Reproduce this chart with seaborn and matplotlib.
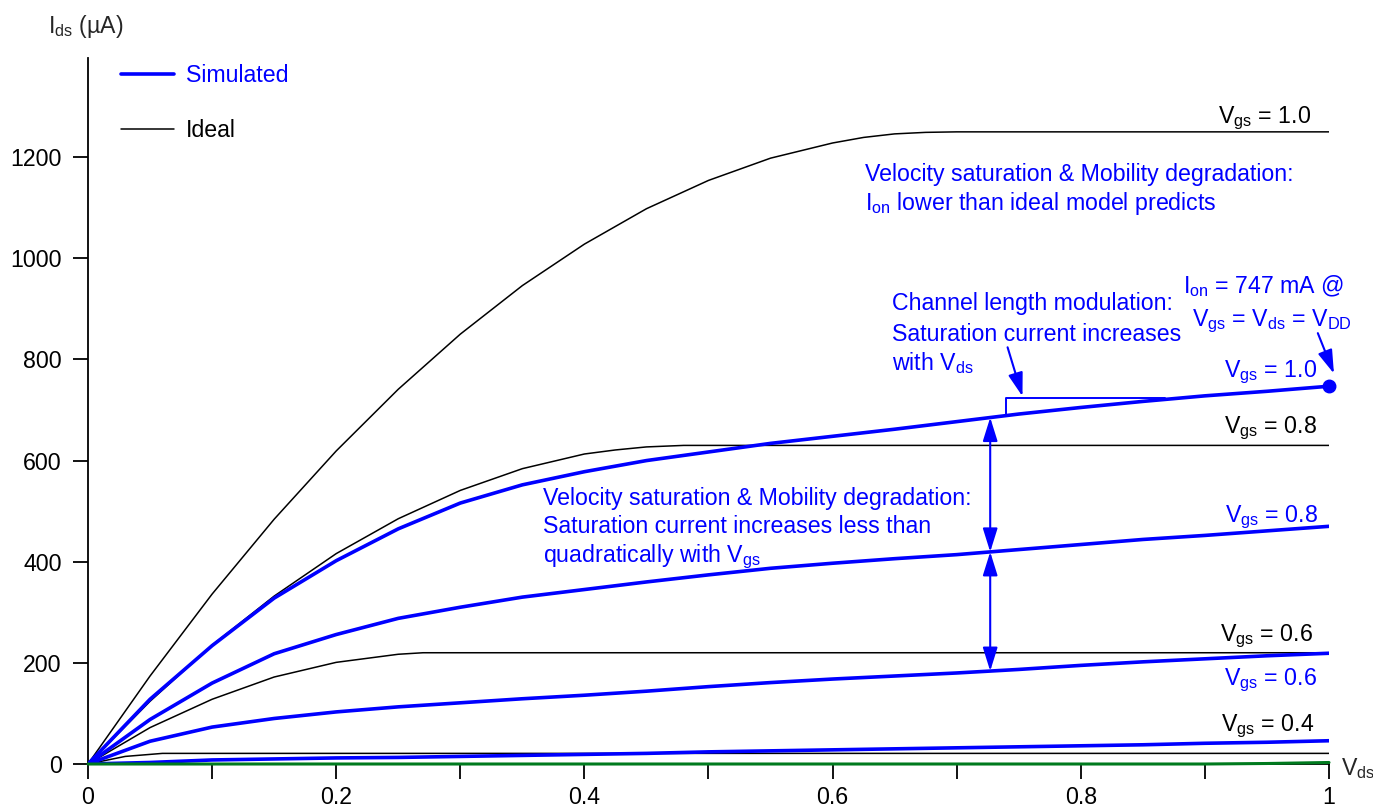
import numpy as np
import matplotlib
matplotlib.use("Agg")
import matplotlib.pyplot as plt
import seaborn as sns

# ---------------- data ----------------
VDS = [0.00, 0.05, 0.10, 0.15, 0.20, 0.25, 0.30, 0.35, 0.40, 0.45, 0.50,
       0.55, 0.60, 0.65, 0.70, 0.75, 0.80, 0.85, 0.90, 0.95, 1.00]
SIM_10 = [0, 128, 234, 328, 402, 465, 516, 552, 578, 600, 617,
          634, 648, 662, 677, 692, 705, 717, 728, 737, 747]
SIM_08 = [0, 88, 160, 218, 256, 288, 310, 330, 345, 360, 374,
          387, 397, 406, 414, 424, 434, 444, 452, 461, 470]
SIM_06 = [0, 45, 73, 90, 103, 113, 121, 129, 136, 144, 153,
          161, 168, 174, 180, 187, 195, 202, 208, 214, 219]
SIM_04 = [0, 3, 8, 10, 12, 13, 15, 17, 19, 21, 24,
          26, 28, 30, 32, 34, 36, 38, 41, 43, 46]
SIM_02 = [0, 0, 0, 0, 0, 0, 0, 0, 0, 0, 0,
          0, 0, 0, 0, 0, 0, 0, 0, 1, 3]

IDEAL_10_X = [0.00, 0.05, 0.10, 0.15, 0.20, 0.25, 0.30, 0.35, 0.40, 0.45,
              0.50, 0.55, 0.60, 0.625, 0.65, 0.675, 0.70, 1.00]
IDEAL_10_Y = [0, 174, 336, 484, 619, 741, 850, 946, 1028, 1098,
              1154, 1198, 1228, 1239, 1246, 1249, 1250, 1250]
IDEAL_08_X = [0.00, 0.05, 0.10, 0.15, 0.20, 0.25, 0.30, 0.35, 0.40, 0.425,
              0.45, 0.48, 1.00]
IDEAL_08_Y = [0, 124, 235, 332, 416, 485, 541, 584, 613, 621, 627, 630, 630]
IDEAL_06_X = [0.00, 0.05, 0.10, 0.15, 0.20, 0.25, 0.27, 1.00]
IDEAL_06_Y = [0, 72, 128, 172, 201, 217, 220, 220]
IDEAL_04_X = [0.00, 0.03, 0.06, 1.00]
IDEAL_04_Y = [0, 15, 21, 21]

X_TICKS = [0, 0.1, 0.2, 0.3, 0.4, 0.5, 0.6, 0.7, 0.8, 0.9, 1.0]
X_TICK_LABELS = ["0", "", "0.2", "", "0.4", "", "0.6", "", "0.8", "", "1"]
Y_TICKS = [0, 200, 400, 600, 800, 1000, 1200]

BLUE = "#0000ff"
GREEN = "#007a1e"

# ---------------- style ----------------
sns.set_style("ticks")
plt.rcParams["font.family"] = ["Liberation Sans", "DejaVu Sans"]
plt.rcParams["mathtext.fontset"] = "custom"
plt.rcParams["mathtext.rm"] = "Liberation Sans"
plt.rcParams["mathtext.it"] = "Liberation Sans:italic"
plt.rcParams["mathtext.bf"] = "Liberation Sans:bold"

FS = 16.7

fig = plt.figure(figsize=(13.73, 8.11), dpi=100)
ax = fig.add_axes([0.06409, 0.05795, 0.90386, 0.8705])

# ideal curves
for xs, ys in [(IDEAL_10_X, IDEAL_10_Y), (IDEAL_08_X, IDEAL_08_Y),
               (IDEAL_06_X, IDEAL_06_Y), (IDEAL_04_X, IDEAL_04_Y)]:
    sns.lineplot(x=xs, y=ys, ax=ax, color="black", lw=1.1,
                 estimator=None, sort=False, zorder=3)

# simulated curves
for ys in [SIM_10, SIM_08, SIM_06, SIM_04]:
    sns.lineplot(x=VDS, y=ys, ax=ax, color=BLUE, lw=2.6,
                 estimator=None, sort=False, zorder=4)
sns.lineplot(x=VDS, y=SIM_02, ax=ax, color=GREEN, lw=2.2,
             estimator=None, sort=False, zorder=4, clip_on=False)

# end point dot
ax.plot([VDS[-1]], [SIM_10[-1]], "o", color=BLUE, ms=9, clip_on=False, zorder=6)

# axes
ax.set_xlim(0, 1)
ax.set_ylim(0, 1396)
sns.despine(ax=ax)
for s in ["left", "bottom"]:
    ax.spines[s].set_linewidth(1.3)
    ax.spines[s].set_color("black")
ax.set_xticks(X_TICKS)
ax.set_xticklabels(X_TICK_LABELS)
ax.set_yticks(Y_TICKS)
ax.tick_params(axis="x", direction="out", length=11, width=1.3, pad=5,
               labelsize=FS, colors="black")
ax.tick_params(axis="y", direction="out", length=11, width=1.3, pad=8,
               labelsize=FS, colors="black")
ax.set_xlabel("")
ax.set_ylabel("")

ax.text(-0.032, 1445, r"I$_{\rm ds}$ (µA)", fontsize=FS, ha="left",
        va="baseline", clip_on=False)
ax.text(1.010, -22, r"V$_{\rm ds}$", fontsize=FS, ha="left",
        va="baseline", clip_on=False)

# legend
h_sim, = ax.plot([], [], color=BLUE, lw=2.6, label="Simulated")
h_id, = ax.plot([], [], color="black", lw=1.1, label="Ideal")
leg = ax.legend(handles=[h_sim, h_id], loc="upper left",
                bbox_to_anchor=(0.0266, 0.991), frameon=False, fontsize=FS,
                handlelength=2.3, handletextpad=0.5, labelspacing=1.37,
                borderpad=0, borderaxespad=0, labelcolor="linecolor")

# curve labels
for x, y, txt, c in [
    (0.9855, 1267, r"V$_{\rm gs}$ = 1.0", "black"),
    (0.990, 655, r"V$_{\rm gs}$ = 0.8", "black"),
    (0.987, 244, r"V$_{\rm gs}$ = 0.6", "black"),
    (0.988, 66, r"V$_{\rm gs}$ = 0.4", "black"),
    (0.990, 766, r"V$_{\rm gs}$ = 1.0", BLUE),
    (0.991, 479, r"V$_{\rm gs}$ = 0.8", BLUE),
    (0.990, 157, r"V$_{\rm gs}$ = 0.6", BLUE),
]:
    ax.text(x, y, txt, color=c, fontsize=FS, ha="right", va="baseline",
            clip_on=False)

# annotation: velocity saturation (top)
ax.text(0.626, 1152, "Velocity saturation & Mobility degradation:",
        color=BLUE, fontsize=FS, va="baseline")
ax.text(0.626, 1096, r"I$_{\rm on}$ lower than ideal model predicts",
        color=BLUE, fontsize=FS, va="baseline")

# annotation: I_on
ax.text(0.947, 931, r"I$_{\rm on}$ = 747 mA @", color=BLUE, fontsize=FS,
        ha="center", va="baseline")
ax.text(0.954, 865, r"V$_{\rm gs}$ = V$_{\rm ds}$ = V$_{\rm DD}$", color=BLUE,
        fontsize=FS, ha="center", va="baseline")
ARROW = dict(arrowstyle="-|>,head_length=0.8,head_width=0.25", color=BLUE,
             lw=1.5, mutation_scale=18, shrinkA=0, shrinkB=0)
ax.annotate("", xy=(1.004, 772), xytext=(0.991, 852), arrowprops=ARROW,
            annotation_clip=False)

# annotation: channel length modulation
for y, txt in [(897, "Channel length modulation:"),
               (836, "Saturation current increases"),
               (778, r"with V$_{\rm ds}$")]:
    ax.text(0.648, y, txt, color=BLUE, fontsize=FS, va="baseline")
ax.annotate("", xy=(0.753, 727), xytext=(0.741, 824), arrowprops=ARROW)
xb = 0.74
yb0 = np.interp(xb, VDS, SIM_10)
ax.plot([xb, xb, 0.868], [yb0, 724, 724], color=BLUE, lw=1.4, zorder=5)

# annotation: velocity saturation (middle)
for y, txt in [(513, "Velocity saturation & Mobility degradation:"),
               (457, "Saturation current increases less than"),
               (400, r"quadratically with V$_{\rm gs}$")]:
    ax.text(0.3667, y, txt, color=BLUE, fontsize=FS, va="baseline")
xa = 0.727
ya1 = np.interp(xa, VDS, SIM_10)
ya2 = np.interp(xa, VDS, SIM_08)
ya3 = np.interp(xa, VDS, SIM_06)
DARROW = dict(arrowstyle="<|-|>,head_length=0.8,head_width=0.25", color=BLUE,
              lw=1.5, mutation_scale=18, shrinkA=0, shrinkB=0)
ax.annotate("", xy=(xa, ya1), xytext=(xa, ya2), arrowprops=DARROW)
ax.annotate("", xy=(xa, ya2), xytext=(xa, ya3), arrowprops=DARROW)

fig.savefig("out.png", dpi=100)
